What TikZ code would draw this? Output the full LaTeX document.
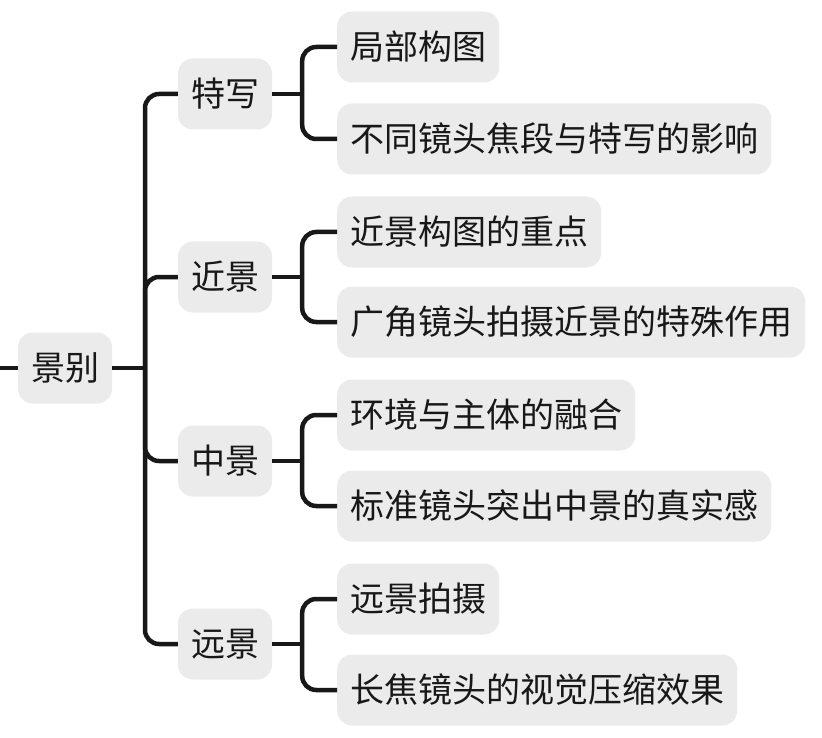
\documentclass[tikz,border=0pt]{standalone}
\usepackage{fontspec}
\setmainfont{Noto Sans CJK SC}
\usetikzlibrary{positioning}
\definecolor{boxgray}{HTML}{EBEBEB}
\definecolor{linedark}{HTML}{181818}
\tikzset{
  topic/.style={fill=boxgray, rounded corners=15pt, inner xsep=13pt, inner ysep=0pt,
    minimum height=71pt, text=linedark, font=\fontsize{34}{40}\selectfont},
  leaf/.style={topic, anchor=west},
  link/.style={draw=linedark, line width=4.5pt, rounded corners=14pt},
}
\begin{document}
\begin{tikzpicture}[x=1pt,y=-1pt]
\useasboundingbox (0,0) rectangle (822,738);
% root and main branches
\node[topic] (root) at (65,368) {景别};
\node[topic] (tx) at (225,94) {特写};
\node[topic] (jj) at (225,277) {近景};
\node[topic] (zj) at (225,461) {中景};
\node[topic] (yj) at (225,644) {远景};
% leaves
\node[leaf] (tx1) at (337,47) {局部构图};
\node[leaf] (tx2) at (337,139) {不同镜头焦段与特写的影响};
\node[leaf] (jj1) at (337,232) {近景构图的重点};
\node[leaf] (jj2) at (337,322) {广角镜头拍摄近景的特殊作用};
\node[leaf] (zj1) at (337,415) {环境与主体的融合};
\node[leaf] (zj2) at (337,506) {标准镜头突出中景的真实感};
\node[leaf] (yj1) at (337,599) {远景拍摄};
\node[leaf] (yj2) at (337,690) {长焦镜头的视觉压缩效果};
% connectors
\coordinate (stub) at (0,368);
\coordinate (trunk) at (145,368);
\draw[link] (stub) -- (root.west);
\draw[link] (root.east) -- (trunk);
\foreach \n in {tx,jj,zj,yj} {
  \draw[link] (\n.east) -- ++(30,0) coordinate (\n j);
  \draw[link] (trunk) |- (\n.west);
  \draw[link] (\n j) |- (\n 1.west);
  \draw[link] (\n j) |- (\n 2.west);
}
\end{tikzpicture}
\end{document}
